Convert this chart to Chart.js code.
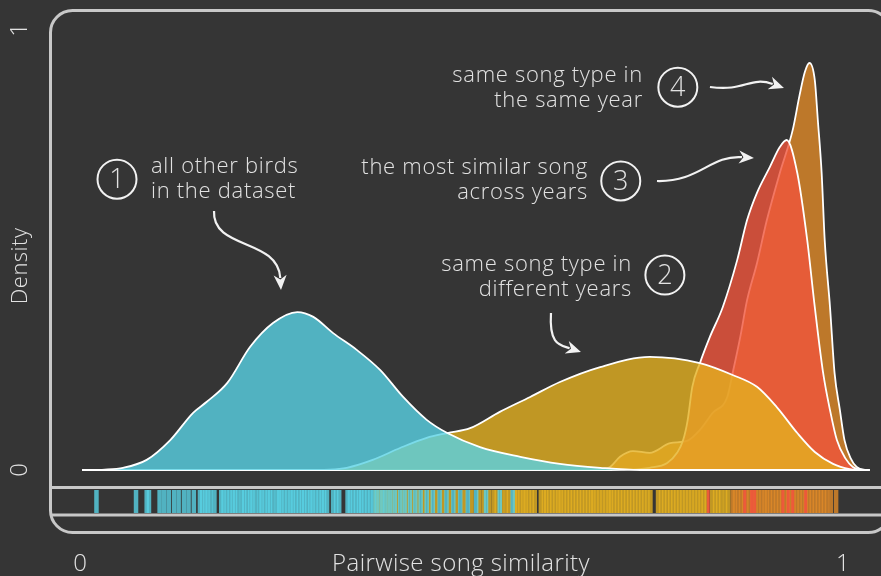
<!DOCTYPE html>
<html>
<head>
<meta charset="utf-8">
<script src="https://cdn.jsdelivr.net/npm/chart.js@4.4.1/dist/chart.umd.min.js"></script>
<style>
  html, body { margin: 0; padding: 0; background: #353535; }
  #wrap { width: 881px; height: 576px; position: relative; }
</style>
</head>
<body>
<div id="wrap"><canvas id="chart"></canvas></div>
<script>
// density curves, x = pairwise song similarity, y = density
const otherX = [0, 0.030, 0.054, 0.085, 0.116, 0.146, 0.164, 0.191, 0.221, 0.251, 0.283, 0.304, 0.330, 0.361, 0.392, 0.422, 0.453, 0.480, 0.523, 0.576, 0.628, 0.681, 0.733, 1.035];
const otherY = [0, 0.001, 0.005, 0.023, 0.068, 0.130, 0.155, 0.198, 0.280, 0.334, 0.359, 0.348, 0.311, 0.273, 0.227, 0.166, 0.114, 0.084, 0.052, 0.030, 0.014, 0.005, 0, 0];

const diffYearsX = [0, 0.286, 0.326, 0.348, 0.382, 0.418, 0.453, 0.480, 0.510, 0.549, 0.589, 0.628, 0.681, 0.746, 0.812, 0.855, 0.887, 0.913, 0.940, 0.963, 0.987, 1.009, 1.022, 1.035];
const diffYearsY = [0, 0, 0.001, 0.005, 0.023, 0.050, 0.073, 0.084, 0.095, 0.132, 0.166, 0.200, 0.234, 0.257, 0.243, 0.216, 0.189, 0.143, 0.084, 0.041, 0.014, 0.002, 0, 0];

const mostSimilarX = [0, 0.681, 0.720, 0.746, 0.769, 0.782, 0.790, 0.796, 0.802, 0.812, 0.825, 0.842, 0.861, 0.874, 0.887, 0.904, 0.917, 0.926, 0.940, 0.953, 0.963, 0.974, 0.983, 0.992, 1.003, 1.013, 1.026, 1.035];
const mostSimilarY = [0, 0, 0.001, 0.005, 0.016, 0.039, 0.068, 0.114, 0.189, 0.243, 0.302, 0.370, 0.477, 0.568, 0.630, 0.689, 0.734, 0.750, 0.675, 0.523, 0.370, 0.220, 0.136, 0.068, 0.027, 0.007, 0, 0];

const sameYearX = [0, 0.681, 0.694, 0.707, 0.724, 0.746, 0.773, 0.795, 0.812, 0.829, 0.848, 0.855, 0.865, 0.874, 0.887, 0.900, 0.917, 0.934, 0.943, 0.950, 0.956, 0.963, 0.967, 0.972, 0.976, 0.983, 0.989, 0.996, 1.002, 1.010, 1.018, 1.029, 1.035];
const sameYearY = [0, 0, 0.007, 0.030, 0.043, 0.039, 0.061, 0.066, 0.091, 0.130, 0.166, 0.220, 0.302, 0.386, 0.470, 0.568, 0.675, 0.773, 0.852, 0.905, 0.925, 0.886, 0.795, 0.675, 0.523, 0.370, 0.220, 0.136, 0.068, 0.027, 0.007, 0, 0];

// rug of single comparisons
const rugOther = [0.019, 0.071, 0.085, 0.088,
  0.102, 0.108, 0.114, 0.121, 0.127, 0.134, 0.140, 0.147, 0.155,
  0.158, 0.162, 0.165, 0.169, 0.174, 0.183, 0.186, 0.190, 0.194, 0.198, 0.201, 0.205, 0.210, 0.213, 0.217,
  0.221, 0.224, 0.228, 0.233, 0.236, 0.240, 0.244, 0.247, 0.251, 0.256, 0.259, 0.262, 0.266, 0.270, 0.274,
  0.277, 0.281, 0.285, 0.289, 0.292, 0.296, 0.300, 0.303, 0.307, 0.311, 0.315, 0.318, 0.322, 0.330, 0.334,
  0.338, 0.349, 0.352, 0.356, 0.360, 0.364, 0.367, 0.371, 0.375, 0.379, 0.383,
  0.388, 0.394, 0.399, 0.405, 0.411, 0.418, 0.424, 0.431, 0.438, 0.445, 0.453, 0.461, 0.470, 0.479, 0.488,
  0.497, 0.507, 0.518, 0.531, 0.549, 0.566];
const rugDiff = [0.386, 0.391, 0.396, 0.402, 0.408, 0.414, 0.421, 0.427, 0.434, 0.441, 0.449, 0.457, 0.465,
  0.474, 0.483, 0.492, 0.502, 0.512, 0.522, 0.528, 0.535, 0.541, 0.545, 0.552, 0.557, 0.561,
  0.569, 0.572, 0.576, 0.580, 0.583, 0.587, 0.591, 0.595, 0.603, 0.607, 0.610, 0.614, 0.618, 0.622, 0.626,
  0.629, 0.633, 0.637, 0.641, 0.645, 0.649, 0.653, 0.657, 0.661, 0.665, 0.669, 0.672, 0.676, 0.680, 0.684,
  0.688, 0.692, 0.695, 0.699, 0.703, 0.707, 0.711, 0.715, 0.719, 0.723, 0.727, 0.731, 0.735, 0.739, 0.743,
  0.747, 0.757, 0.761, 0.765, 0.769, 0.773, 0.777, 0.781, 0.785, 0.789, 0.793, 0.797, 0.801, 0.805, 0.809,
  0.813, 0.817, 0.821, 0.828, 0.832, 0.836, 0.840, 0.845, 0.849];
const rugSame = [0.855, 0.858, 0.862, 0.866, 0.870, 0.873, 0.877, 0.881, 0.885, 0.889, 0.893, 0.897, 0.900,
  0.904, 0.908, 0.912, 0.916, 0.920, 0.924, 0.928, 0.931, 0.935, 0.939, 0.943, 0.947, 0.951, 0.955, 0.959,
  0.963, 0.967, 0.971, 0.975, 0.979, 0.984, 0.991];
const rugMost = [0.823, 0.871, 0.880, 0.884, 0.921, 0.928, 0.934, 0.951];
const rugY = -0.0716;

// annotations (data coordinates)
const notes = [
  { n: '1', circle: [0.046, 0.661], align: 'left', at: [0.0907, 0.675], lines: ['all other birds', 'in the dataset'],
    arrow: [[0.1735, 0.5886], [0.1708, 0.500], [0.2576, 0.5273], [0.2615, 0.4091]] },
  { n: '2', circle: [0.766, 0.443], align: 'right', at: [0.7227, 0.452], lines: ['same song type in', 'different years'],
    arrow: [[0.6163, 0.3568], [0.6137, 0.2841], [0.6281, 0.2841], [0.6557, 0.2682]] },
  { n: '3', circle: [0.708, 0.657], align: 'right', at: [0.6649, 0.673], lines: ['the most similar song', 'across years'],
    arrow: [[0.7556, 0.6568], [0.8121, 0.6545], [0.8252, 0.7159], [0.8830, 0.7091]] },
  { n: '4', circle: [0.783, 0.870], align: 'right', at: [0.7372, 0.882], lines: ['same song type in', 'the same year'],
    arrow: [[0.8252, 0.8705], [0.8712, 0.8591], [0.8778, 0.8955], [0.9225, 0.8682]] }
];

const FONT = '"Open Sans", "Segoe UI", sans-serif';
const TEXT = '#e2e2e2';

function pts(xs, ys) { return xs.map((x, i) => ({ x: x, y: ys[i] })); }
function rug(xs) { return xs.map(x => ({ x: x, y: rugY })); }

function curve(data, color) {
  return {
    type: 'line', data: data, backgroundColor: color, borderColor: '#ffffff', borderWidth: 1.8,
    fill: 'origin', pointRadius: 0, cubicInterpolationMode: 'monotone'
  };
}
function rugSet(data, color, w) {
  return {
    type: 'scatter', data: data, pointStyle: 'line', pointRotation: 90, pointRadius: 11.5,
    pointBorderColor: color, pointBorderWidth: w, pointBackgroundColor: color
  };
}

const decor = {
  id: 'decor',
  beforeDraw(chart) {
    const ctx = chart.ctx;
    ctx.save();
    ctx.fillStyle = '#353535';
    ctx.fillRect(0, 0, chart.width, chart.height);
    // frame
    ctx.strokeStyle = '#c8c8c8';
    ctx.lineWidth = 3;
    ctx.beginPath();
    ctx.roundRect(50.5, 10.5, 840, 522, 22);
    ctx.stroke();
    ctx.beginPath();
    ctx.moveTo(50, 487.5); ctx.lineTo(chart.width, 487.5);
    ctx.moveTo(50, 515); ctx.lineTo(chart.width, 515);
    ctx.stroke();
    ctx.restore();
  },
  afterDraw(chart) {
    const ctx = chart.ctx;
    const xs = chart.scales.x, ys = chart.scales.y;
    const X = v => xs.getPixelForValue(v), Y = v => ys.getPixelForValue(v);
    ctx.save();
    ctx.fillStyle = TEXT;
    ctx.textBaseline = 'alphabetic';
    ctx.textAlign = 'center';
    ctx.font = '300 24px ' + FONT;
    ctx.letterSpacing = '0px';
    ctx.fillText('0', X(0) - 2, 571);
    ctx.fillText('1', X(1), 571);
    ctx.letterSpacing = '0.4px';
    ctx.fillText('Pairwise song similarity', 461, 571);
    // y axis, rotated
    const ylab = (t, y, size, sp) => {
      ctx.save();
      ctx.translate(27, y);
      ctx.rotate(-Math.PI / 2);
      ctx.font = '300 ' + size + 'px ' + FONT;
      ctx.letterSpacing = sp;
      ctx.fillText(t, 0, 0);
      ctx.restore();
    };
    ylab('0', Y(0), 24, '0px');
    ylab('1', Y(1), 24, '0px');
    ylab('Density', Y(0.464), 22, '0.5px');

    // annotations
    ctx.strokeStyle = '#f2f2f2';
    notes.forEach(a => {
      ctx.fillStyle = TEXT;
      ctx.font = '300 22px ' + FONT;
      ctx.letterSpacing = '0.7px';
      ctx.textAlign = a.align;
      a.lines.forEach((t, i) => ctx.fillText(t, X(a.at[0]), Y(a.at[1]) + i * 25));
      ctx.letterSpacing = '0px';
      const cx = X(a.circle[0]), cy = Y(a.circle[1]);
      ctx.lineWidth = 2;
      ctx.beginPath();
      ctx.arc(cx, cy, 19.5, 0, Math.PI * 2);
      ctx.stroke();
      ctx.textAlign = 'center';
      ctx.textBaseline = 'middle';
      ctx.font = '300 27px ' + FONT;
      ctx.fillText(a.n, cx, cy + 1);
      ctx.textBaseline = 'alphabetic';
      // arrow
      const p = a.arrow.map(q => [X(q[0]), Y(q[1])]);
      const dx = p[3][0] - p[2][0], dy = p[3][1] - p[2][1];
      const len = Math.hypot(dx, dy), ux = dx / len, uy = dy / len;
      const head = 15, half = 6.5;
      const ex = p[3][0] - ux * head * 0.8, ey = p[3][1] - uy * head * 0.8;
      ctx.lineWidth = 2.2;
      ctx.beginPath();
      ctx.moveTo(p[0][0], p[0][1]);
      ctx.bezierCurveTo(p[1][0], p[1][1], p[2][0], p[2][1], ex, ey);
      ctx.stroke();
      ctx.fillStyle = '#f2f2f2';
      ctx.beginPath();
      ctx.moveTo(p[3][0], p[3][1]);
      ctx.lineTo(p[3][0] - ux * head - uy * half, p[3][1] - uy * head + ux * half);
      ctx.lineTo(p[3][0] - ux * head * 0.7, p[3][1] - uy * head * 0.7);
      ctx.lineTo(p[3][0] - ux * head + uy * half, p[3][1] - uy * head - ux * half);
      ctx.closePath();
      ctx.fill();
    });
    ctx.restore();
  }
};

new Chart(document.getElementById('chart'), {
  type: 'line',
  data: {
    datasets: [
      rugSet(rug(rugMost), 'rgba(240,85,60,0.9)', 3),
      rugSet(rug(rugOther), 'rgba(89,210,229,0.8)', 4.5),
      rugSet(rug(rugDiff), 'rgba(228,176,32,0.8)', 4.5),
      rugSet(rug(rugSame), 'rgba(224,138,40,0.8)', 4.5),
      curve(pts(otherX, otherY), 'rgba(89,210,229,0.8)'),
      curve(pts(diffYearsX, diffYearsY), 'rgba(228,176,32,0.8)'),
      curve(pts(mostSimilarX, mostSimilarY), 'rgba(240,85,60,0.8)'),
      curve(pts(sameYearX, sameYearY), 'rgba(224,138,40,0.8)')
    ]
  },
  options: {
    responsive: true,
    maintainAspectRatio: false,
    animation: false,
    events: [],
    layout: { autoPadding: false, padding: { left: 82, right: 3.8, top: 30, bottom: 53.2 } },
    scales: {
      x: { type: 'linear', min: 0, max: 1.045, display: false },
      y: { type: 'linear', min: -0.12, max: 1, display: false }
    },
    plugins: { legend: { display: false }, tooltip: { enabled: false } }
  },
  plugins: [decor]
});
</script>
</body>
</html>
